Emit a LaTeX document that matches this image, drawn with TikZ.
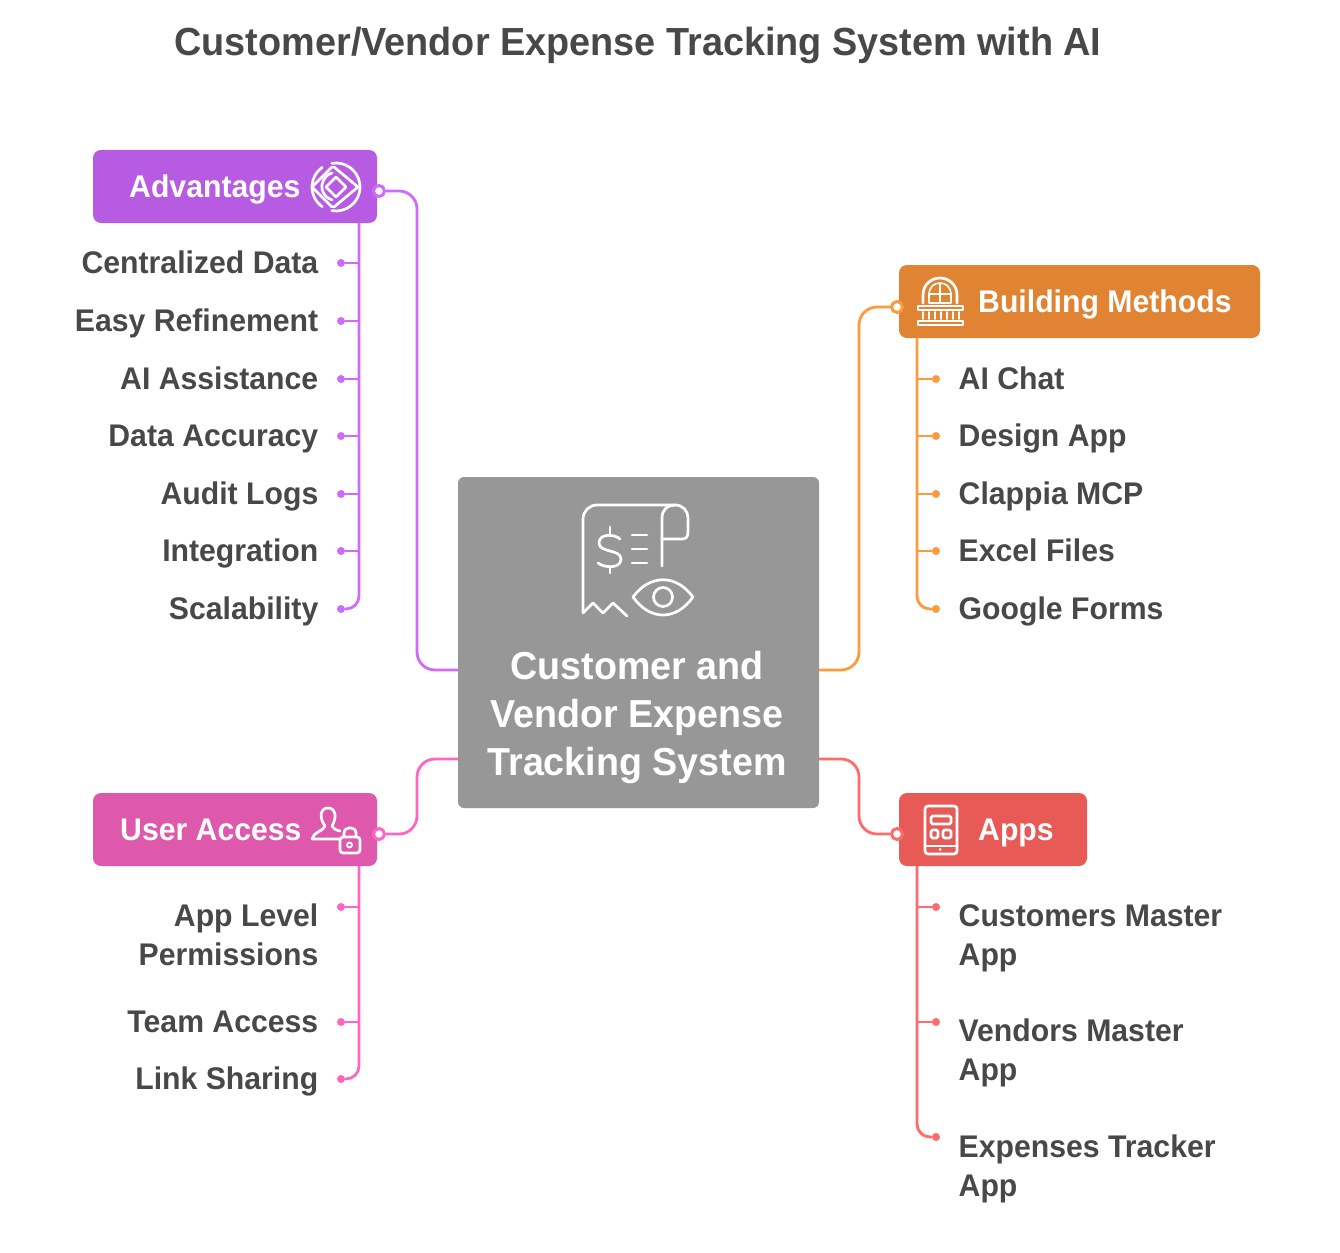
\documentclass[tikz,border=0pt]{standalone}
\usepackage{fontspec}
\setmainfont[FakeStretch=0.965]{Liberation Sans}

\definecolor{inkgrey}{HTML}{484848}
\definecolor{maingrey}{HTML}{979797}
\definecolor{advfill}{HTML}{B75CE2}
\definecolor{advline}{HTML}{CF6BFB}
\definecolor{buildfill}{HTML}{E08433}
\definecolor{buildline}{HTML}{FF9A3C}
\definecolor{userfill}{HTML}{DE59AC}
\definecolor{userline}{HTML}{FF66C4}
\definecolor{appsfill}{HTML}{E85A55}
\definecolor{appsline}{HTML}{FF6B6B}

\tikzset{
  headbox/.style={rounded corners=8, inner sep=0, minimum height=73},
  headtext/.style={text=white, font=\bfseries\fontsize{31.3}{37}\selectfont, inner sep=0, anchor=base west},
  itemleft/.style={text=inkgrey, font=\bfseries\fontsize{31.3}{39}\selectfont, inner sep=0, anchor=base east, align=right},
  itemright/.style={text=inkgrey, font=\bfseries\fontsize{31.3}{39}\selectfont, inner sep=0, anchor=base west, align=left},
  portnode/.style={circle, fill=white, inner sep=0, minimum size=11, line width=3},
  dotnode/.style={circle, inner sep=0, minimum size=8},
  branchline/.style={line width=2.8},
  linkline/.style={line width=2.8, rounded corners=18},
  iconline/.style={draw=white, line width=2.7, line cap=round, line join=round},
}

\begin{document}
\begin{tikzpicture}[x=1pt, y=-1pt]
  \useasboundingbox (0,0) rectangle (1340,1252);

  \node[text=inkgrey, font=\bfseries\fontsize{39.2}{46}\selectfont, inner sep=0, anchor=base] (title) at (638,56) {Customer/Vendor Expense Tracking System with AI};

  % centre box
  \node[fill=maingrey, rounded corners=6, inner sep=0, minimum width=361, minimum height=331] (mainbox) at (638.5,642.5) {};
  \node[text=white, font=\bfseries\fontsize{39}{48}\selectfont, inner sep=0, align=center] (maintext) at (637,717) {Customer and\\Vendor Expense\\Tracking System};
  \draw[iconline, rounded corners=14] (583,613) -- (583,505) -- (675,505);
  \draw[iconline] (583,613) -- (593,603) -- (603,613) -- (613,603) -- (627,616);
  \draw[iconline] (662,566) -- (662,518) .. controls (662,509) and (668,505) .. (675,505) .. controls (683,505) and (688,511) .. (688,518) -- (688,532) .. controls (688,537) and (686,539) .. (682,539) -- (662,539);
  \draw[iconline] (620,539) .. controls (615,534) and (599,533) .. (599,543) .. controls (599,553) and (621,549) .. (621,559) .. controls (621,569) and (604,568) .. (598,563);
  \draw[iconline] (610,527) -- (610,534) (610,567) -- (610,573);
  \draw[iconline] (632,535) -- (647,535) (632,549) -- (647,549) (632,563) -- (647,563);
  \draw[iconline] (633,597) .. controls (650,574) and (676,574) .. (693,597) .. controls (676,621) and (650,621) .. (633,597) -- cycle;
  \draw[iconline] (663,597) circle (9.5);

  % advantages
  \node[headbox, fill=advfill, minimum width=284] (advbox) at (235,186.5) {};
  \node[headtext] (advtext) at (129,197.5) {Advantages};
  \begin{scope}[shift={(336,187)}]
    \draw[iconline] (-100:24) arc[start angle=-100, end angle=100, radius=24];
    \draw[iconline] (125:24) arc[start angle=125, end angle=235, radius=24];
    \draw[iconline] (-24,0) -- (-4,-20) (-24,0) -- (-4,20);
    \draw[iconline] (-2,-20) -- (22,0) -- (-2,20);
    \draw[iconline] (0,-10) -- (10,0) -- (0,10) -- (-10,0) -- cycle;
    \draw[iconline] (-4,-14) arc[start angle=-106, end angle=-254, radius=14];
  \end{scope}
  \node[portnode, draw=advline] (advport) at (379,191) {};
  \coordinate (advbend) at (417,670);
  \coordinate (advin) at (458,670);
  \draw[linkline, draw=advline] (advport.east) -| (advbend) -- (advin);
  \coordinate (advtop) at (359,223);
  \foreach \lab/\ypos [count=\i] in {Centralized Data/263,Easy Refinement/321,AI Assistance/379,Data Accuracy/436,Audit Logs/494,Integration/551,Scalability/609} {
    \node[itemleft] (advitem\i) at (318.5,\ypos+10.5) {\lab};
    \node[dotnode, fill=advline] (advdot\i) at (341,\ypos) {};
    \ifnum\i<7 \draw[branchline, draw=advline] (advdot\i -| advtop) -- (advdot\i); \fi
  }
  \draw[linkline, rounded corners=13, draw=advline] (advtop) |- (advdot7);

  % building methods
  \node[headbox, fill=buildfill, minimum width=361] (buildbox) at (1079.5,301.5) {};
  \node[headtext] (buildtext) at (978,312.5) {Building Methods};
  \draw[iconline] (923,303) -- (923,295) .. controls (923,284) and (932,278) .. (940,278) .. controls (948,278) and (957,284) .. (957,295) -- (957,303);
  \draw[iconline, line width=1.6] (929,303) -- (929,295) .. controls (929,287) and (934,283) .. (940,283) .. controls (946,283) and (951,287) .. (951,295) -- (951,303) -- cycle;
  \draw[iconline, line width=1.8] (940,283) -- (940,303) (929,294) -- (951,294);
  \draw[iconline, line width=2.4] (918,306) rectangle (963,310);
  \draw[iconline, line width=2.4] (918,321) rectangle (963,325);
  \foreach \xpos in {923,929,935,941,947,953,959} {
    \draw[iconline, line width=1.6] (\xpos,312) -- (\xpos,319);
  }
  \node[portnode, draw=buildline] (buildport) at (897,307) {};
  \coordinate (buildbend) at (859,670);
  \coordinate (buildin) at (819,670);
  \draw[linkline, draw=buildline] (buildport.west) -| (buildbend) -- (buildin);
  \coordinate (buildtop) at (917,338);
  \foreach \lab/\ypos [count=\i] in {AI Chat/379,Design App/436,Clappia MCP/494,Excel Files/551,Google Forms/609} {
    \node[itemright] (builditem\i) at (958.5,\ypos+10.5) {\lab};
    \node[dotnode, fill=buildline] (builddot\i) at (936,\ypos) {};
    \ifnum\i<5 \draw[branchline, draw=buildline] (builddot\i -| buildtop) -- (builddot\i); \fi
  }
  \draw[linkline, rounded corners=13, draw=buildline] (buildtop) |- (builddot5);

  % user access
  \node[headbox, fill=userfill, minimum width=284] (userbox) at (235,829.5) {};
  \node[headtext] (usertext) at (120,840.5) {User Access};
  \draw[iconline] (325,826) .. controls (319,818) and (320,808) .. (328,808) .. controls (336,808) and (337,818) .. (332,826) .. controls (333,829) and (336,830) .. (340,831);
  \draw[iconline] (325,826) .. controls (324,831) and (313,832) .. (312,839) -- (339,839);
  \draw[iconline, rounded corners=3] (340,837) rectangle (360,853);
  \draw[iconline] (344,837) -- (344,833) .. controls (344,826) and (356,826) .. (356,833) -- (356,837);
  \draw[iconline, line width=1.8] (349.5,845) circle (2.5);
  \node[portnode, draw=userline] (userport) at (379,834) {};
  \coordinate (userbend) at (417,759);
  \coordinate (userin) at (458,759);
  \draw[linkline, draw=userline] (userport.east) -| (userbend) -- (userin);
  \coordinate (usertop) at (359,866);
  \foreach \lab/\ypos/\tpos [count=\i] in {App Level\\Permissions/907/965.5,Team Access/1022/1032.5,Link Sharing/1079/1089.5} {
    \node[itemleft] (useritem\i) at (318.5,\tpos) {\lab};
    \node[dotnode, fill=userline] (userdot\i) at (341,\ypos) {};
    \ifnum\i<3 \draw[branchline, draw=userline] (userdot\i -| usertop) -- (userdot\i); \fi
  }
  \draw[linkline, rounded corners=13, draw=userline] (usertop) |- (userdot3);

  % apps
  \node[headbox, fill=appsfill, minimum width=188] (appsbox) at (993,829.5) {};
  \node[headtext] (appstext) at (978,840.5) {Apps};
  \draw[iconline, rounded corners=3] (925,806) rectangle (957,854);
  \draw[iconline, rounded corners=1.5] (931,816) rectangle (951,824);
  \draw[iconline, rounded corners=1.5] (931,830) rectangle (938,838);
  \draw[iconline, rounded corners=1.5] (943,830) rectangle (951,838);
  \draw[iconline] (925,846) -- (957,846);
  \fill[white] (940,849.5) circle (1.5);
  \node[portnode, draw=appsline] (appsport) at (897,834) {};
  \coordinate (appsbend) at (859,759);
  \coordinate (appsin) at (819,759);
  \draw[linkline, draw=appsline] (appsport.west) -| (appsbend) -- (appsin);
  \coordinate (appstop) at (917,866);
  \foreach \lab/\ypos/\tpos [count=\i] in {Customers Master\\App/907/965.5,Vendors Master\\App/1022/1080.5,Expenses Tracker\\App/1137/1196} {
    \node[itemright] (appsitem\i) at (958.5,\tpos) {\lab};
    \node[dotnode, fill=appsline] (appsdot\i) at (936,\ypos) {};
    \ifnum\i<3 \draw[branchline, draw=appsline] (appsdot\i -| appstop) -- (appsdot\i); \fi
  }
  \draw[linkline, rounded corners=13, draw=appsline] (appstop) |- (appsdot3);
\end{tikzpicture}
\end{document}
